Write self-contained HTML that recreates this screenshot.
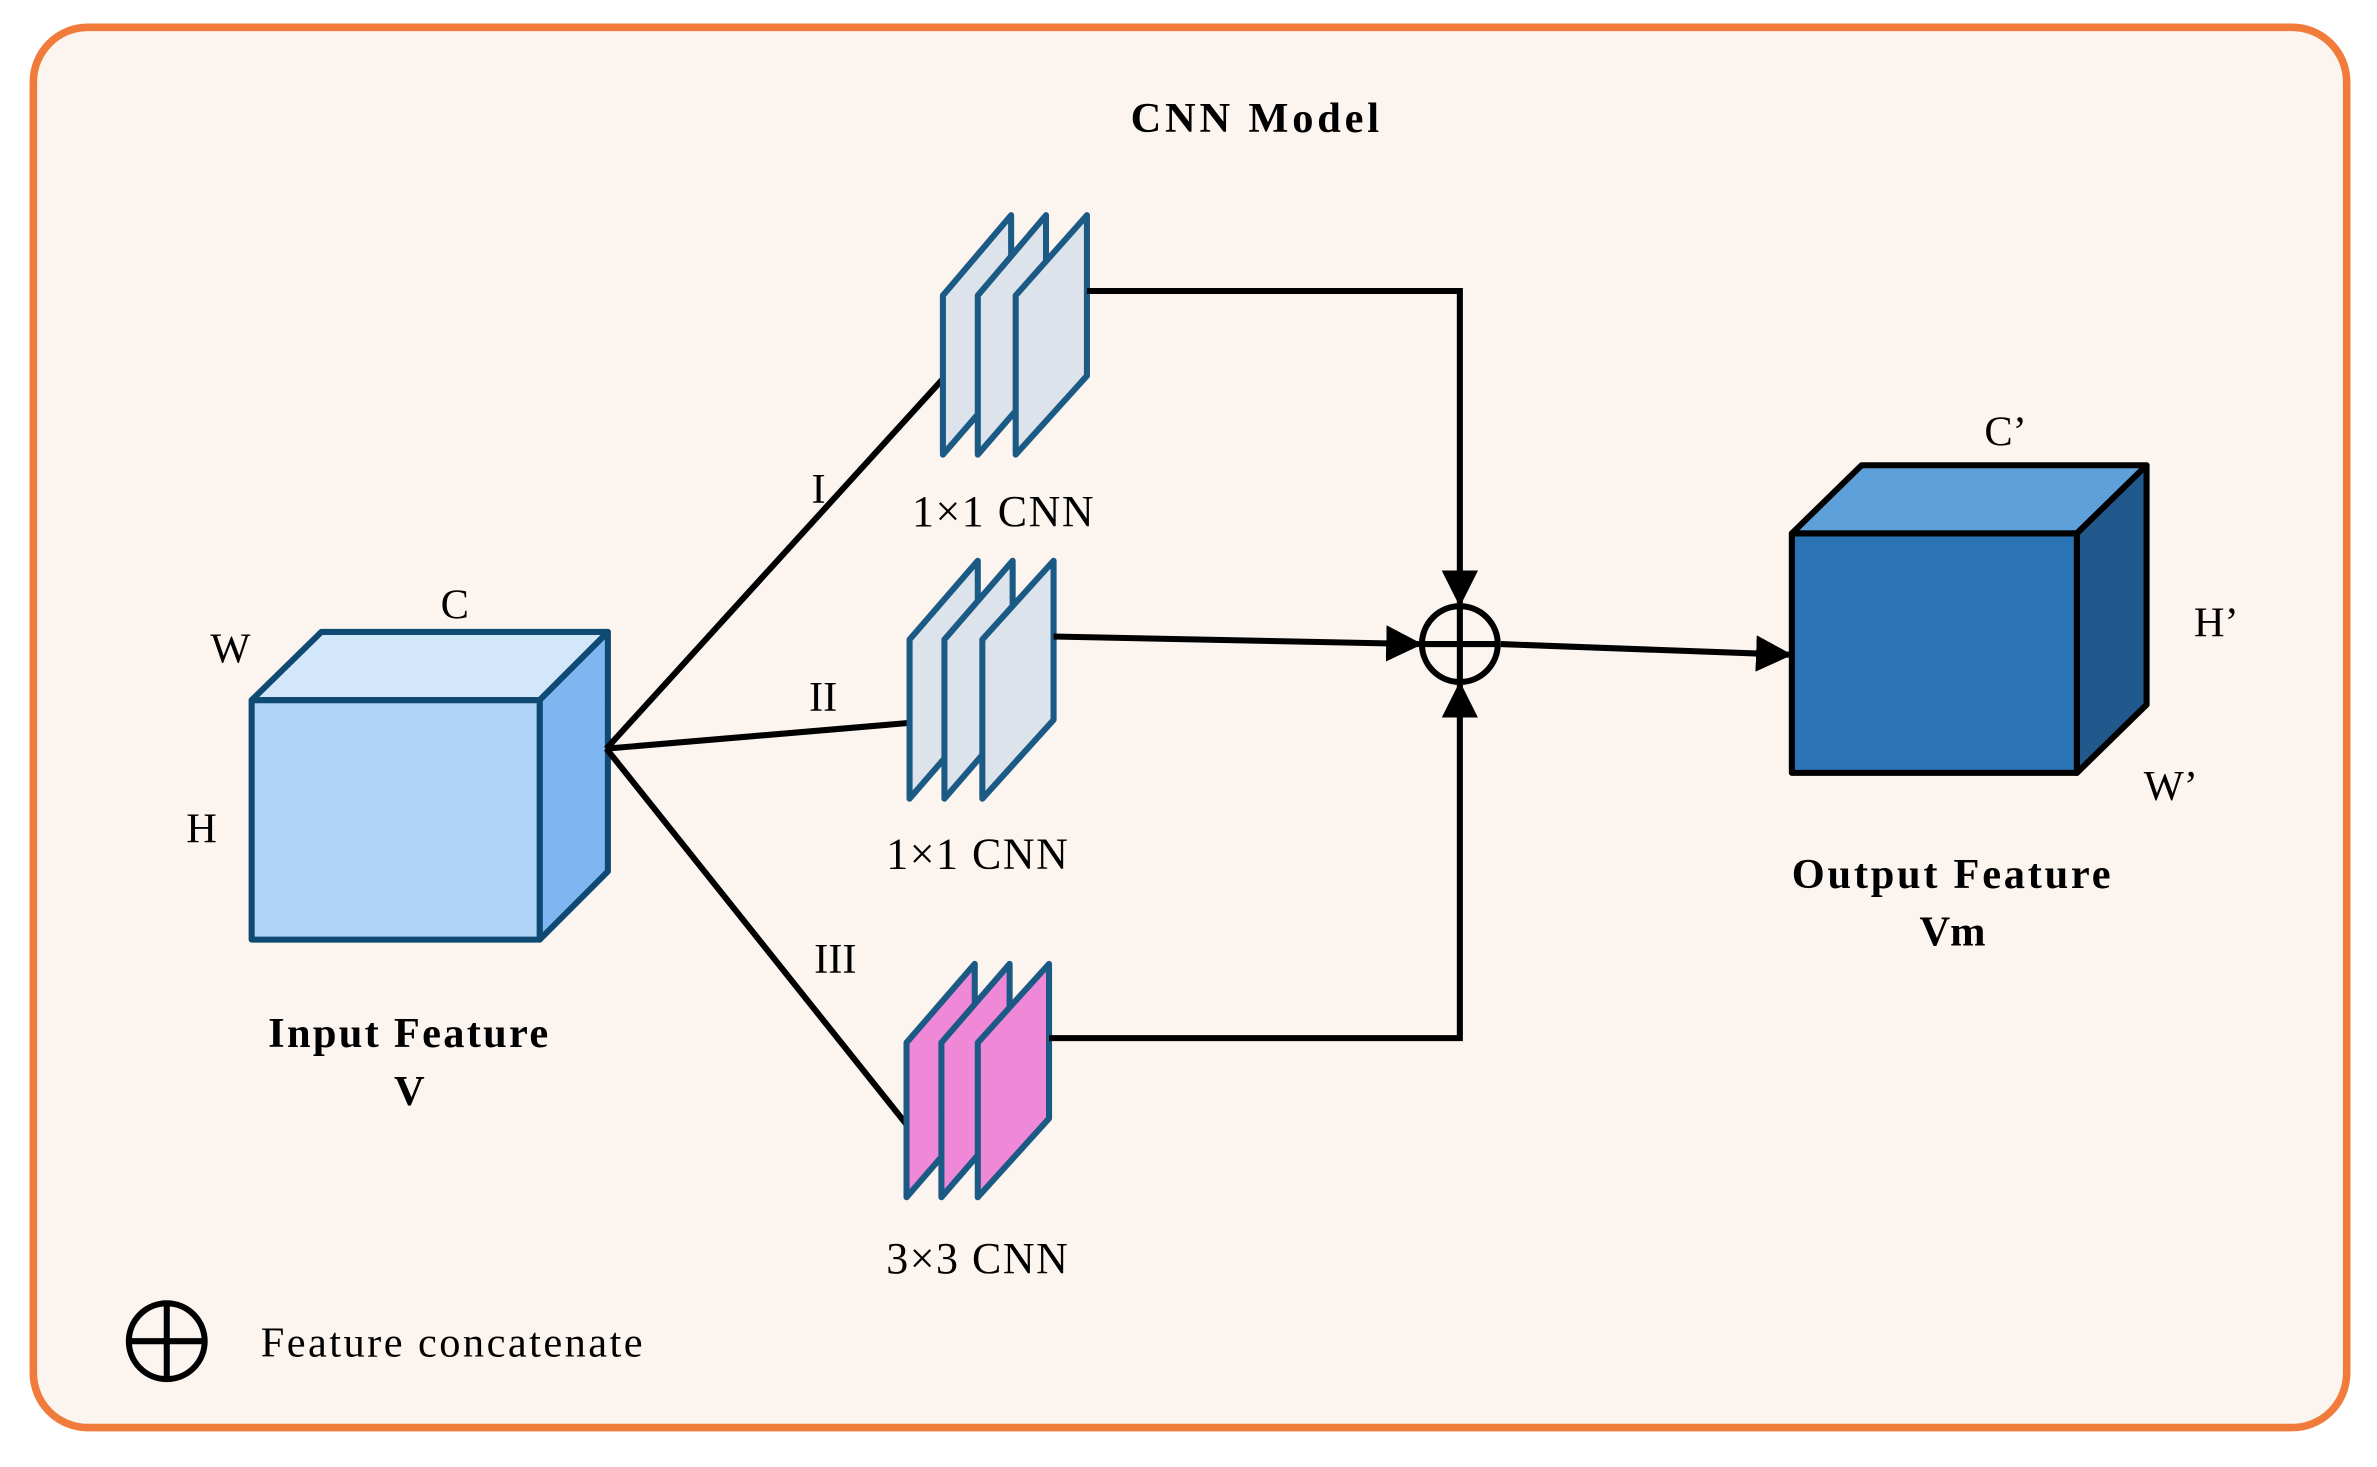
<!DOCTYPE html>
<html><head><meta charset="utf-8"><style>html,body{margin:0;padding:0;background:#fff}svg{display:block}</style></head>
<body>
<svg width="2377" height="1467" viewBox="0 0 1568 968" preserveAspectRatio="none" xmlns="http://www.w3.org/2000/svg" font-family="Liberation Serif, serif">
<defs>
<marker id="ah" viewBox="0 0 10 10" refX="9" refY="5" markerWidth="6" markerHeight="6" orient="auto" markerUnits="strokeWidth"><path d="M0,0 L10,5 L0,10 z" fill="#000"/></marker>
</defs>
<rect x="22" y="18" width="1526" height="924" rx="36" fill="#FBF4EF" stroke="#F07B3A" stroke-width="5"/>
<text x="829" y="87" font-size="28" font-weight="bold" text-anchor="middle" letter-spacing="2.5">CNN Model</text>
<g stroke="#0E4A72" stroke-width="4" stroke-linejoin="round">
<polygon points="166,462 212,417 401,417 356,462" fill="#D3E7FB"/>
<polygon points="356,462 401,417 401,575 356,620" fill="#7FB6F2"/>
<rect x="166" y="462" width="190" height="158" fill="#B0D3F7"/>
</g>
<g font-size="28">
<text x="152" y="437" text-anchor="middle">W</text>
<text x="300" y="408" text-anchor="middle">C</text>
<text x="133" y="556" text-anchor="middle">H</text>
</g>
<text x="270" y="691" font-size="28" font-weight="bold" text-anchor="middle" letter-spacing="1.5">Input Feature</text>
<text x="270" y="729" font-size="28" font-weight="bold" text-anchor="middle">V</text>
<g stroke="#000" stroke-width="4" fill="none">
<line x1="400" y1="494" x2="622" y2="250"/>
<line x1="400" y1="494" x2="600" y2="477"/>
<line x1="400" y1="494" x2="598" y2="742"/>
</g>
<g font-size="28" text-anchor="middle">
<text x="540" y="332">I</text>
<text x="543" y="469">II</text>
<text x="551" y="642">III</text>
</g>
<g stroke="#1A5A85" stroke-width="4" stroke-linejoin="round" fill="#DDE3EA">
<polygon points="622,195 667,142 667,248 622,300"/>
<polygon points="645,195 690,142 690,248 645,300"/>
<polygon points="670,195 717,142 717,248 670,300"/>
<polygon points="600,422 645,370 645,475 600,527"/>
<polygon points="623,422 668,370 668,475 623,527"/>
<polygon points="648,422 695,370 695,475 648,527"/>
</g>
<g stroke="#1A5A85" stroke-width="4" stroke-linejoin="round" fill="#F088D8">
<polygon points="598,688 643,636 643,738 598,790"/>
<polygon points="621,688 666,636 666,738 621,790"/>
<polygon points="645,688 692,636 692,738 645,790"/>
</g>
<g font-size="29" text-anchor="middle" letter-spacing="1">
<text x="662" y="347">1×1 CNN</text>
<text x="645" y="573">1×1 CNN</text>
<text x="645" y="840">3×3 CNN</text>
</g>
<g stroke="#000" stroke-width="4" fill="none">
<polyline points="717,192 963,192 963,398" marker-end="url(#ah)"/>
<line x1="695" y1="420" x2="936" y2="425" marker-end="url(#ah)"/>
<polyline points="692,685 963,685 963,452" marker-end="url(#ah)"/>
<line x1="990" y1="425" x2="1180" y2="432" marker-end="url(#ah)"/>
<circle cx="963" cy="425" r="25"/>
<line x1="938" y1="425" x2="988" y2="425"/>
<line x1="963" y1="400" x2="963" y2="450"/>
</g>
<g stroke="#000" stroke-width="4" stroke-linejoin="round">
<polygon points="1182,352 1228,307 1416,307 1370,352" fill="#5EA0DA"/>
<polygon points="1370,352 1416,307 1416,465 1370,510" fill="#22598C"/>
<rect x="1182" y="352" width="188" height="158" fill="#2A74B5"/>
</g>
<g font-size="28" text-anchor="middle">
<text x="1323" y="294">C’</text>
<text x="1462" y="420">H’</text>
<text x="1432" y="528">W’</text>
</g>
<text x="1288" y="586" font-size="28" font-weight="bold" text-anchor="middle" letter-spacing="1.8">Output Feature</text>
<text x="1288" y="624" font-size="28" font-weight="bold" text-anchor="middle">Vm</text>
<g stroke="#000" stroke-width="4" fill="none">
<circle cx="110" cy="885" r="25"/>
<line x1="85" y1="885" x2="135" y2="885"/>
<line x1="110" y1="860" x2="110" y2="910"/>
</g>
<text x="172" y="895" font-size="28" letter-spacing="1.6">Feature concatenate</text>
</svg>
</body></html>
